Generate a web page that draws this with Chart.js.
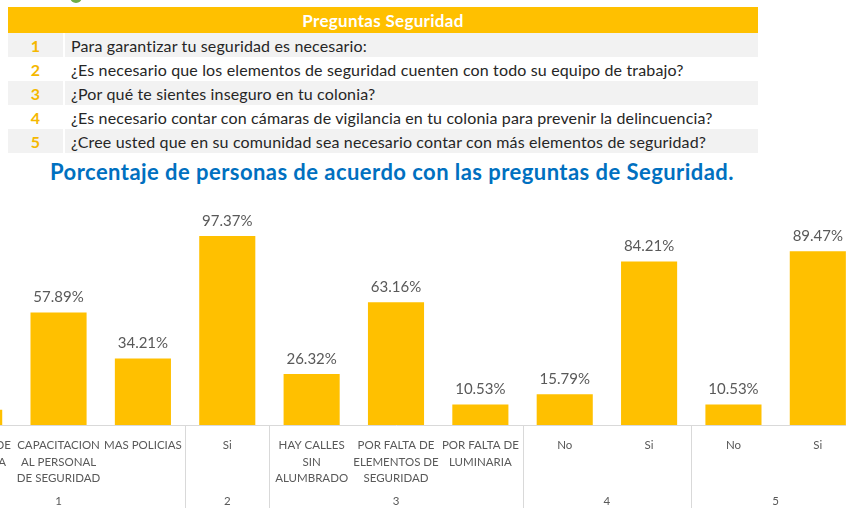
<!DOCTYPE html>
<html>
<head>
<meta charset="utf-8">
<script src="https://cdn.jsdelivr.net/npm/chart.js@4"></script>
<style>
  body { margin: 0; width: 846px; height: 508px; overflow: hidden; position: relative; background: #fff; font-family: Lato, "Open Sans", sans-serif; }
  #dot { position: absolute; left: 70px; top: -9px; width: 12px; height: 12px; border-radius: 50%; background: #70ad47; }
  #tabla { position: absolute; left: 8px; top: 7px; width: 750px; border-collapse: collapse; }
  #tabla th { background: #ffc000; color: #fff; font-weight: bold; font-size: 17px; letter-spacing: 0.3px; height: 26px; padding: 0; }
  #tabla td { height: 24px; padding: 0; font-size: 16px; letter-spacing: 0.15px; color: #262626; }
  #tabla tbody tr:nth-child(odd) td { background: #f2f2f2; }
  #tabla td.num { width: 55px; text-align: center; color: #f5b800; font-weight: bold; border-right: 2px solid #fff; }
  #tabla td.txt { padding-left: 6px; }
  #titulo { position: absolute; left: 0; width: 784px; top: 158px; text-align: center; color: #0070c0; font-weight: bold; font-size: 22px; letter-spacing: 0.45px; white-space: nowrap; }
  #caja { position: absolute; left: -68px; top: 192px; width: 928px; height: 316px; }
</style>
</head>
<body>
<div id="dot"></div>
<table id="tabla">
  <thead><tr><th colspan="2">Preguntas Seguridad</th></tr></thead>
  <tbody>
    <tr><td class="num">1</td><td class="txt">Para garantizar tu seguridad es necesario:</td></tr>
    <tr><td class="num">2</td><td class="txt">¿Es necesario que los elementos de seguridad cuenten con todo su equipo de trabajo?</td></tr>
    <tr><td class="num">3</td><td class="txt">¿Por qué te sientes inseguro en tu colonia?</td></tr>
    <tr><td class="num">4</td><td class="txt">¿Es necesario contar con cámaras de vigilancia en tu colonia para prevenir la delincuencia?</td></tr>
    <tr><td class="num">5</td><td class="txt">¿Cree usted que en su comunidad sea necesario contar con más elementos de seguridad?</td></tr>
  </tbody>
</table>
<div id="titulo">Porcentaje de personas de acuerdo con las preguntas de Seguridad.</div>
<div id="caja"><canvas id="grafica"></canvas></div>

<script>
// Respuestas (el primer grupo empieza fuera del recorte de la imagen)
const categorias = [
  ['CAMARAS DE', 'VIGILANCIA'],
  ['CAPACITACION', 'AL PERSONAL', 'DE SEGURIDAD'],
  ['MAS POLICIAS'],
  ['Si'],
  ['HAY CALLES', 'SIN', 'ALUMBRADO'],
  ['POR FALTA DE', 'ELEMENTOS DE', 'SEGURIDAD'],
  ['POR FALTA DE', 'LUMINARIA'],
  ['No'],
  ['Si'],
  ['No'],
  ['Si']
];
const porcentajes = [7.89, 57.89, 34.21, 97.37, 26.32, 63.16, 10.53, 15.79, 84.21, 10.53, 89.47];

// Numero de pregunta y cuantas respuestas tiene cada una
const preguntas = ['1', '2', '3', '4', '5'];
const respuestasPorPregunta = [3, 1, 3, 2, 2];

const gris = '#595959';
const lineaGris = '#d9d9d9';

// Etiquetas de porcentaje encima de cada barra
const etiquetasBarras = {
  id: 'etiquetasBarras',
  afterDatasetsDraw(chart) {
    const ctx = chart.ctx;
    const meta = chart.getDatasetMeta(0);
    ctx.save();
    ctx.font = '15px Lato, sans-serif';
    ctx.fillStyle = gris;
    ctx.textAlign = 'center';
    ctx.textBaseline = 'middle';
    meta.data.forEach((bar, i) => {
      ctx.fillText(porcentajes[i].toFixed(2) + '%', bar.x, bar.y - 15);
    });
    ctx.restore();
  }
};

// Segundo nivel del eje: numero de pregunta y separadores
const gruposEje = {
  id: 'gruposEje',
  afterDraw(chart) {
    const ctx = chart.ctx;
    const x = chart.scales.x;
    ctx.save();
    ctx.font = '11.5px Lato, sans-serif';
    ctx.fillStyle = gris;
    ctx.textAlign = 'center';
    ctx.textBaseline = 'middle';
    ctx.strokeStyle = lineaGris;
    ctx.lineWidth = 1;
    let inicio = 0;
    respuestasPorPregunta.forEach((n, g) => {
      const fin = inicio + n - 1;
      const centro = (x.getPixelForValue(inicio) + x.getPixelForValue(fin)) / 2;
      ctx.fillText(preguntas[g], centro, chart.height - 7);
      if (fin < categorias.length - 1) {
        const sep = Math.round((x.getPixelForValue(fin) + x.getPixelForValue(fin + 1)) / 2) + 0.5;
        ctx.beginPath();
        ctx.moveTo(sep, x.top);
        ctx.lineTo(sep, chart.height);
        ctx.stroke();
      }
      inicio = fin + 1;
    });
    ctx.restore();
  }
};

new Chart(document.getElementById('grafica'), {
  type: 'bar',
  data: {
    labels: categorias,
    datasets: [{
      data: porcentajes,
      backgroundColor: '#ffc000',
      categoryPercentage: 1,
      barPercentage: 0.665
    }]
  },
  options: {
    responsive: true,
    maintainAspectRatio: false,
    animation: false,
    layout: { padding: 0 },
    plugins: {
      legend: { display: false },
      tooltip: { enabled: false }
    },
    scales: {
      x: {
        grid: { display: false },
        border: { color: lineaGris, width: 1 },
        ticks: {
          color: gris,
          font: { family: 'Lato, sans-serif', size: 11.5, lineHeight: 1.45 },
          maxRotation: 0,
          autoSkip: false,
          padding: 4
        },
        afterFit(scale) { scale.height = 83; }
      },
      y: {
        display: false,
        min: 0,
        max: 120
      }
    }
  },
  plugins: [etiquetasBarras, gruposEje]
});
</script>
</body>
</html>
